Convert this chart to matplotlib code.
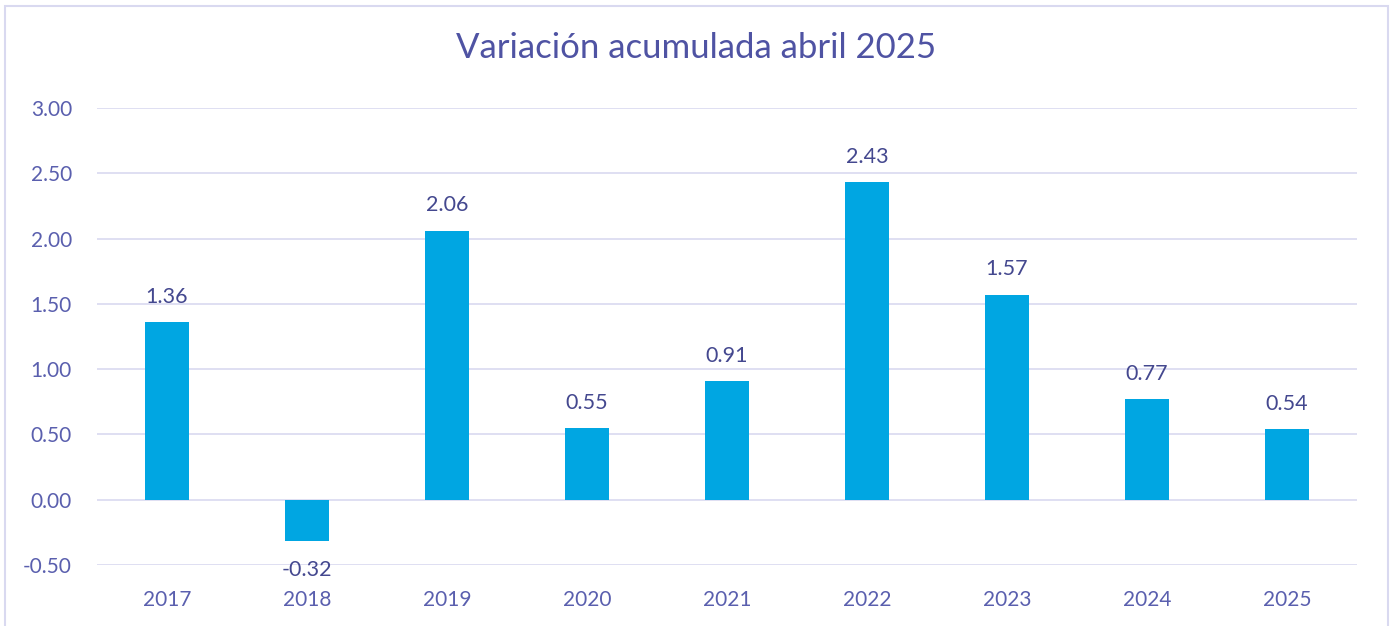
import matplotlib.pyplot as plt
from matplotlib.patches import Rectangle

years = ["2017", "2018", "2019", "2020", "2021", "2022", "2023", "2024", "2025"]
values = [1.36, -0.32, 2.06, 0.55, 0.91, 2.43, 1.57, 0.77, 0.54]
yticks = [-0.5, 0.0, 0.5, 1.0, 1.5, 2.0, 2.5, 3.0]

plt.rcParams["font.family"] = ["Lato", "DejaVu Sans"]

tick_color = "#5a5fae"
label_color = "#44488f"
bar_color = "#00a6e2"
grid_color = "#d9d9f0"

fig = plt.figure(figsize=(13.93, 6.26), dpi=100)
fig.patch.set_facecolor("white")
fig.patches.append(Rectangle((5 / 1393, -0.05), 1383 / 1393, 1 - 6 / 626 + 0.05,
                             transform=fig.transFigure, fill=False,
                             edgecolor=grid_color, linewidth=1.5))

ax = fig.add_axes([97 / 1393, 1 - 565 / 626, 1260 / 1393, (565 - 108) / 626])
x = range(len(years))
ax.bar(x, values, width=0.31, color=bar_color, zorder=3)

for xi, v in zip(x, values):
    if v >= 0:
        ax.annotate(f"{v:.2f}", (xi, v), xytext=(0, 11), textcoords="offset points",
                    ha="center", va="bottom", fontsize=15.5, color=label_color)
    else:
        ax.annotate(f"{v:.2f}", (xi, v), xytext=(0, -13), textcoords="offset points",
                    ha="center", va="top", fontsize=15.5, color=label_color)

ax.set_xlim(-0.5, len(years) - 0.5)
ax.set_ylim(-0.5, 3.0)
ax.set_yticks(yticks)
ax.set_yticklabels([f"{t:.2f}" for t in yticks])
ax.set_xticks(list(x))
ax.set_xticklabels(years)
ax.tick_params(axis="y", length=0, pad=18, labelsize=15, labelcolor=tick_color)
ax.tick_params(axis="x", length=0, pad=18, labelsize=15, labelcolor=tick_color)
ax.grid(axis="y", color=grid_color, linewidth=1.2, zorder=0)
for spine in ax.spines.values():
    spine.set_visible(False)

fig.text(0.5, 1 - 48 / 626, "Variación acumulada abril 2025", ha="center", va="center",
         fontsize=25, color="#4f53a3")

plt.savefig("out.png", dpi=100, facecolor=fig.get_facecolor())
plt.close()
